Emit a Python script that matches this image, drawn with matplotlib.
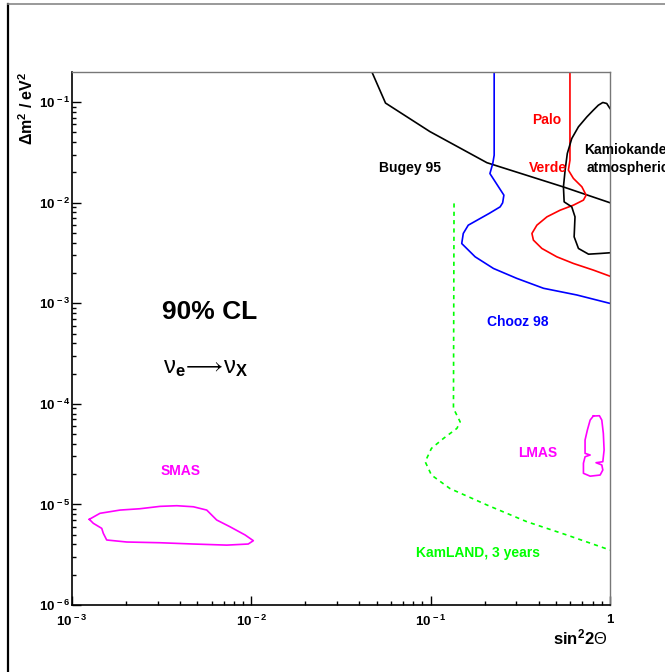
import matplotlib
matplotlib.use("Agg")
import matplotlib.pyplot as plt
from matplotlib.lines import Line2D
from matplotlib.ticker import FixedLocator, LogLocator, NullFormatter

plt.rcParams['font.family'] = ['Liberation Sans', 'DejaVu Sans']
plt.rcParams['mathtext.fontset'] = 'custom'
plt.rcParams['mathtext.rm'] = 'Liberation Sans'
plt.rcParams['mathtext.bf'] = 'Liberation Sans:bold'
plt.rcParams['mathtext.it'] = 'Liberation Sans:italic'

# --- exclusion / allowed regions in (sin^2 2theta, dm^2 [eV^2]) ---
bugey_s2t = [0.047, 0.056, 0.099, 0.206, 0.547, 1.0]
bugey_dm2 = [0.2, 0.098, 0.051, 0.025, 0.0144, 0.010]

chooz_s2t = [0.226, 0.226, 0.222, 0.214, 0.256, 0.252, 0.244, 0.212, 0.189,
             0.162, 0.152, 0.149, 0.177, 0.224, 0.302, 0.426, 0.653, 1.0]
chooz_dm2 = [0.2, 0.0297, 0.0246, 0.0195, 0.0119, 0.00998, 0.0091, 0.00783,
             0.00698, 0.00598, 0.00495, 0.00393, 0.0029, 0.00222, 0.00177,
             0.00141, 0.00121, 0.000998]

palo_s2t = [0.598, 0.598, 0.586, 0.625, 0.697, 0.736, 0.711, 0.625, 0.527,
            0.445, 0.391, 0.367, 0.374, 0.417, 0.505, 0.625, 0.807, 1.0]
palo_dm2 = [0.2, 0.0265, 0.0211, 0.01746, 0.0144, 0.0119, 0.01062, 0.00946,
            0.00843, 0.00724, 0.00598, 0.00495, 0.00425, 0.00351, 0.0029,
            0.00249, 0.00214, 0.00186]

kamioka_s2t = [1.0, 0.959, 0.912, 0.861, 0.807, 0.743, 0.667, 0.612, 0.578,
               0.562, 0.550, 0.555, 0.612, 0.638, 0.631, 0.667, 0.759, 0.881,
               1.0]
kamioka_dm2 = [0.0865, 0.0970, 0.0993, 0.0933, 0.0832, 0.0714, 0.0569, 0.0435,
               0.0309, 0.0211, 0.0144, 0.0102, 0.0091, 0.00724, 0.00458,
               0.00351, 0.00308, 0.00313, 0.00318]

kamland_s2t = [0.135, 0.134, 0.146, 0.140, 0.118, 0.101, 0.0932, 0.101,
               0.128, 0.206, 0.344, 0.574, 1.0]
kamland_dm2 = [0.00985, 9.02e-5, 6.63e-5, 5.70e-5, 4.54e-5, 3.61e-5, 2.66e-5,
               1.96e-5, 1.44e-5, 9.87e-6, 6.73e-6, 4.97e-6, 3.52e-6]

smas_s2t = [1.249e-3, 1.432e-3, 1.853e-3, 2.39e-3, 3.10e-3, 3.84e-3, 4.75e-3,
            5.64e-3, 6.41e-3, 7.60e-3, 9.23e-3, 1.026e-2, 9.61e-3, 7.30e-3,
            4.75e-3, 3.10e-3, 2.02e-3, 1.561e-3, 1.495e-3, 1.465e-3,
            1.315e-3, 1.249e-3]
smas_dm2 = [7.11e-6, 8.16e-6, 8.79e-6, 9.06e-6, 9.57e-6, 9.71e-6, 9.48e-6,
            8.79e-6, 7.00e-6, 6.00e-6, 4.97e-6, 4.36e-6, 4.04e-6, 3.94e-6,
            4.04e-6, 4.16e-6, 4.23e-6, 4.43e-6, 5.16e-6, 5.78e-6, 6.49e-6,
            7.11e-6]

lmas_s2t = [0.807, 0.873, 0.900, 0.918, 0.927, 0.912, 0.836, 0.900, 0.912,
            0.881, 0.775, 0.711, 0.711, 0.726, 0.775, 0.726, 0.726, 0.748,
            0.775, 0.807]
lmas_dm2 = [7.57e-5, 7.62e-5, 6.90e-5, 5.09e-5, 3.48e-5, 2.66e-5, 2.60e-5,
            2.47e-5, 2.20e-5, 1.96e-5, 1.91e-5, 2.04e-5, 2.57e-5, 2.98e-5,
            3.10e-5, 3.22e-5, 4.37e-5, 5.50e-5, 6.90e-5, 7.57e-5]

x_major = [1e-3, 1e-2, 1e-1, 1.0]
x_major_labels = [r'$\mathbf{10^{\,-3}}$', r'$\mathbf{10^{\,-2}}$',
                  r'$\mathbf{10^{\,-1}}$', r'$\mathbf{1}$']
y_major = [1e-6, 1e-5, 1e-4, 1e-3, 1e-2, 1e-1]
y_major_labels = [r'$\mathbf{10^{\,-6}}$', r'$\mathbf{10^{\,-5}}$',
                  r'$\mathbf{10^{\,-4}}$', r'$\mathbf{10^{\,-3}}$',
                  r'$\mathbf{10^{\,-2}}$', r'$\mathbf{10^{\,-1}}$']

W, H = 665, 672
fig = plt.figure(figsize=(W / 100, H / 100), dpi=100)
fig.patch.set_facecolor('white')

# canvas border
fig.add_artist(Line2D([8 / W, 8 / W], [0, 1 - 4 / H], color='black', lw=1.6,
                      transform=fig.transFigure))
fig.add_artist(Line2D([8 / W, 1], [1 - 4 / H, 1 - 4 / H], color='#888888',
                      lw=1.2, transform=fig.transFigure))

ax = fig.add_axes([72 / W, 1 - 605 / H, (610 - 72) / W, (605 - 72) / H])
ax.set_xscale('log')
ax.set_yscale('log')
ax.set_xlim(1e-3, 1.0)
ax.set_ylim(1e-6, 10 ** -0.7)

lw = 1.2
ax.plot(bugey_s2t, bugey_dm2, color='black', lw=lw)
ax.plot(chooz_s2t, chooz_dm2, color='#0000ff', lw=lw)
ax.plot(palo_s2t, palo_dm2, color='#ff0000', lw=lw)
ax.plot(kamioka_s2t, kamioka_dm2, color='black', lw=lw)
ax.plot(kamland_s2t, kamland_dm2, color='#00ff00', lw=lw, ls=(0, (2.5, 2.5)))
ax.plot(smas_s2t, smas_dm2, color='#ff00ff', lw=lw)
ax.plot(lmas_s2t, lmas_dm2, color='#ff00ff', lw=lw)

# ticks
ax.xaxis.set_major_locator(FixedLocator(x_major))
ax.set_xticklabels(x_major_labels)
ax.yaxis.set_major_locator(FixedLocator(y_major))
ax.set_yticklabels(y_major_labels)
ax.xaxis.set_minor_locator(LogLocator(base=10, subs=range(2, 10), numticks=20))
ax.yaxis.set_minor_locator(LogLocator(base=10, subs=range(2, 10), numticks=20))
ax.xaxis.set_minor_formatter(NullFormatter())
ax.yaxis.set_minor_formatter(NullFormatter())
ax.tick_params(which='both', direction='in', top=False, right=False,
               labelsize=9.5, width=1.0, color='black')
ax.tick_params(which='major', length=6.5)
ax.tick_params(which='minor', length=3.2)
ax.tick_params(axis='x', which='major', pad=6)
ax.tick_params(axis='y', which='major', pad=1)

for side in ('left', 'bottom'):
    ax.spines[side].set_color('black')
    ax.spines[side].set_linewidth(1.2)
for side in ('top', 'right'):
    ax.spines[side].set_color('#777777')
    ax.spines[side].set_linewidth(1.0)

# axis titles
fig.text(27 / W, 1 - 72 / H, r'$\mathbf{\Delta m^{2}\ /\ eV^{2}}$',
         rotation=90, ha='center', va='top', fontsize=11.5)
fig.text(607 / W, 1 - 637 / H, r'$\mathbf{sin^{2}2}\Theta$',
         ha='right', va='center', fontsize=12)

# region labels
kw = dict(fontsize=10, fontweight='bold', va='center')
ax.text(0.446, 0.0662, 'Palo', color='#ff0000', ha='center', **kw)
ax.text(0.45, 0.0221, 'Verde', color='#ff0000', ha='center', **kw)
ax.text(0.718, 0.0333, 'Kamiokande', color='black', ha='left', clip_on=False, **kw)
ax.text(0.745, 0.0221, 'atmospheric', color='black', ha='left', clip_on=False, **kw)
ax.text(0.0518, 0.0221, 'Bugey 95', color='black', ha='left', **kw)
ax.text(0.206, 6.55e-4, 'Chooz 98', color='#0000ff', ha='left', **kw)
ax.text(3.10e-3, 2.15e-5, 'SMAS', color='#ff00ff', ha='left', **kw)
ax.text(0.308, 3.27e-5, 'LMAS', color='#ff00ff', ha='left', **kw)
ax.text(0.083, 3.27e-6, 'KamLAND, 3 years', color='#00ff00', ha='left', **kw)

ax.text(3.16e-3, 8.19e-4, '90% CL', color='black', ha='left', va='center',
        fontsize=19, fontweight='bold')
ax.text(3.2e-3, 2.02e-4,
        r'$\mathrm{\nu}_{\mathbf{e}}\!\longrightarrow\!\mathrm{\nu}_{\mathbf{X}}$',
        color='black', ha='left', va='baseline', fontsize=17)

fig.savefig('out.png', dpi=100, facecolor='white')
